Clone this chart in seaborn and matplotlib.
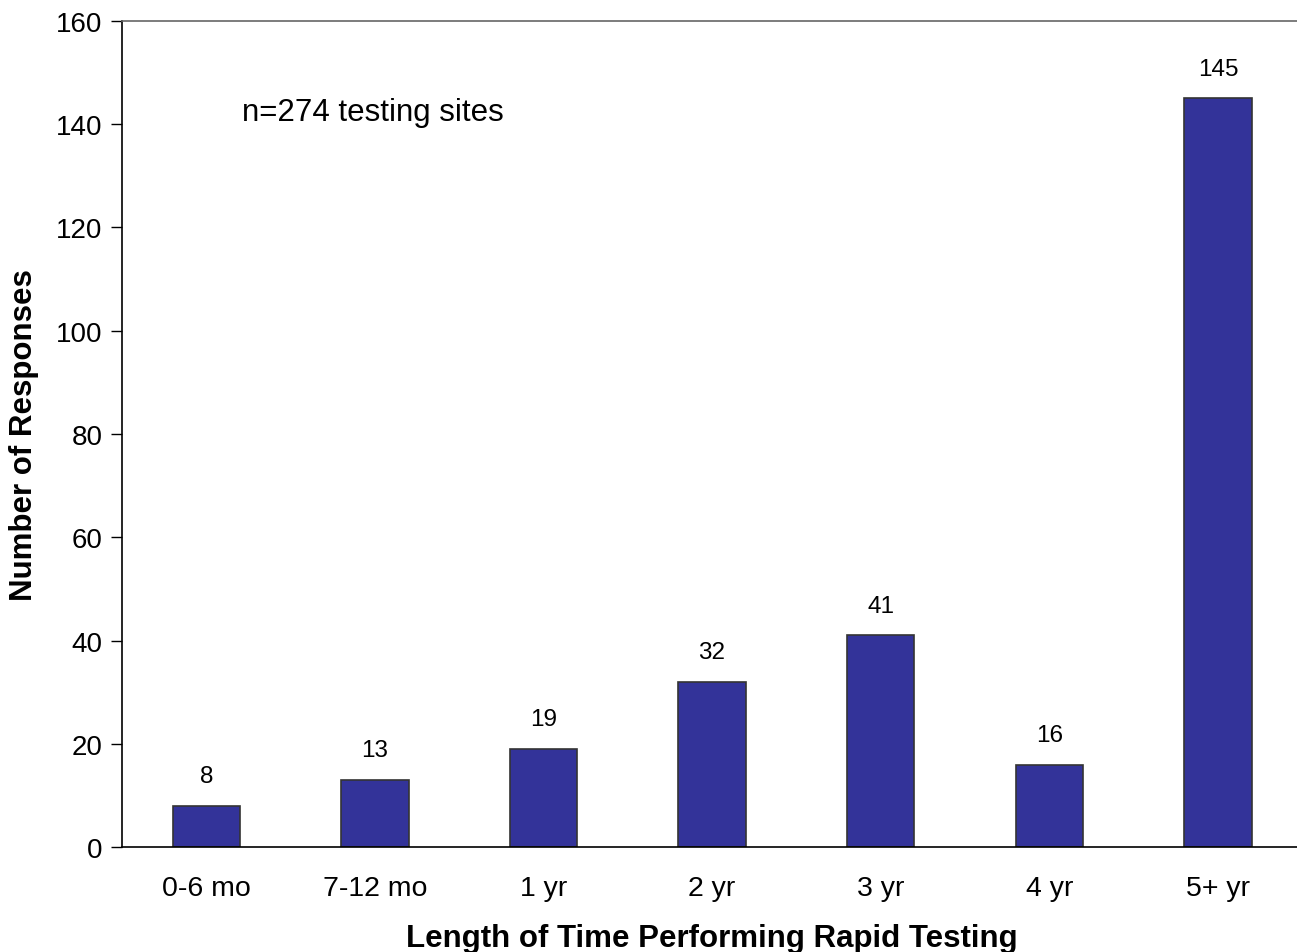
import numpy as np
import pandas as pd
import matplotlib
matplotlib.use("Agg")
import matplotlib.pyplot as plt
import seaborn as sns

# data
categories = ["0-6 mo", "7-12 mo", "1 yr", "2 yr", "3 yr", "4 yr", "5+ yr"]
responses = [8, 13, 19, 32, 41, 16, 145]
y_ticks = [0, 20, 40, 60, 80, 100, 120, 140, 160]

df = pd.DataFrame({"Length": categories, "Responses": responses})

sns.set_style("white")
plt.rcParams['font.family'] = ['Liberation Sans', 'DejaVu Sans']
plt.rcParams['text.color'] = 'black'
plt.rcParams['xtick.color'] = 'black'
plt.rcParams['ytick.color'] = 'black'
plt.rcParams['axes.labelcolor'] = 'black'

fig = plt.figure(figsize=(12.97, 9.53), dpi=100)
ax = fig.add_axes([0.094, 0.110, 0.91, 0.867])

sns.barplot(data=df, x="Length", y="Responses", order=categories,
            color="#333399", saturation=1, width=0.4,
            edgecolor="#333333", linewidth=1.2, ax=ax)

ax.bar_label(ax.containers[0], labels=[str(v) for v in responses],
             padding=13.5, fontsize=17.5)

ax.set_ylim(0, 160)
ax.set_yticks(y_ticks)
ax.set_xlim(-0.5, len(categories) - 0.5)

# tick marks at category boundaries
ax.set_xticks(np.arange(len(categories) + 1) - 0.5, minor=True)
ax.tick_params(axis="x", which="major", length=0, pad=20, labelsize=20.5)
ax.tick_params(axis="x", which="minor", length=8, width=1, color="#555555", direction="out")
ax.tick_params(axis="y", length=8, width=1, direction="out", labelsize=20, pad=6, left=True)

ax.set_xlabel("Length of Time Performing Rapid Testing", fontsize=22.5,
              fontweight="bold", labelpad=16)
ax.set_ylabel("Number of Responses", fontsize=22.5, fontweight="bold", labelpad=12)

ax.text(0.214, 142.3, "n=274 testing sites", fontsize=22.5, ha="left", va="center")

for side in ["left", "bottom"]:
    ax.spines[side].set_color("black")
    ax.spines[side].set_linewidth(1.2)
ax.spines["top"].set_color("#666666")
ax.spines["top"].set_linewidth(1.2)
ax.spines["right"].set_visible(False)

fig.savefig("out.png", dpi=100)
